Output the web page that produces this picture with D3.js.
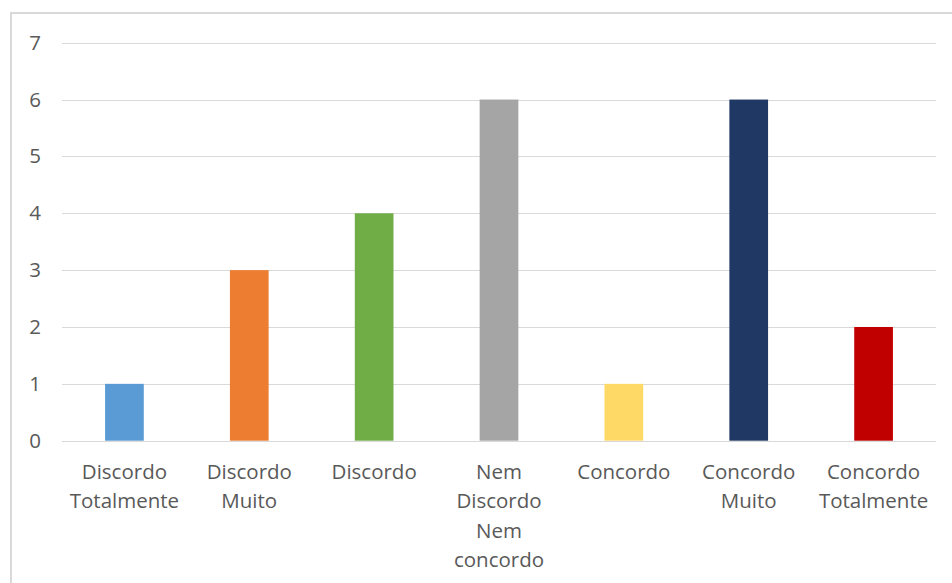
<!DOCTYPE html>
<html>
<head>
<meta charset="utf-8">
<script src="https://cdn.jsdelivr.net/npm/d3@7"></script>
<style>
  html, body { margin: 0; padding: 0; background: #fff; }
  svg { display: block; }
</style>
</head>
<body>
<svg id="chart" width="952" height="583"></svg>
<script>
// Response categories (each may wrap onto several lines)
const categories = [
  ["Discordo", "Totalmente"],
  ["Discordo", "Muito"],
  ["Discordo"],
  ["Nem", "Discordo", "Nem", "concordo"],
  ["Concordo"],
  ["Concordo", "Muito"],
  ["Concordo", "Totalmente"]
];
const values = [1, 3, 4, 6, 1, 6, 2];
const barColors = ["#5B9BD5", "#ED7D31", "#70AD47", "#A5A5A5", "#FFD966", "#203864", "#C00000"];
const yTicks = [0, 1, 2, 3, 4, 5, 6, 7];

const svg = d3.select("#chart");
const font = "'Open Sans', 'Noto Sans', sans-serif";

// Chart frame
svg.append("rect")
  .attr("x", 11).attr("y", 13)
  .attr("width", 960).attr("height", 600)
  .attr("fill", "none")
  .attr("stroke", "#d9d9d9")
  .attr("stroke-width", 2);

const plot = { left: 62, right: 936, top: 42.7, bottom: 440.7 };

const x = d3.scaleBand()
  .domain(d3.range(categories.length))
  .range([plot.left, plot.right])
  .paddingInner(0.69)
  .paddingOuter(0.345);

const y = d3.scaleLinear()
  .domain([0, 7])
  .range([plot.bottom, plot.top]);

// Gridlines
svg.append("g")
  .selectAll("line")
  .data(yTicks)
  .join("line")
  .attr("x1", plot.left).attr("x2", plot.right)
  .attr("y1", d => Math.round(y(d)) + 0.5)
  .attr("y2", d => Math.round(y(d)) + 0.5)
  .attr("stroke", "#d9d9d9")
  .attr("stroke-width", 1);

// Y axis labels
const yAxis = d3.axisLeft(y).tickValues(yTicks).tickSize(0).tickPadding(0).tickFormat(d3.format("d"));
const yg = svg.append("g")
  .attr("transform", `translate(41,0)`)
  .call(yAxis);
yg.select(".domain").remove();
yg.selectAll("text")
  .attr("fill", "#595959")
  .attr("font-family", font)
  .attr("font-size", 20.5);

// Bars
svg.append("g")
  .selectAll("rect")
  .data(values)
  .join("rect")
  .attr("x", (d, i) => x(i))
  .attr("width", x.bandwidth())
  .attr("y", d => y(d))
  .attr("height", d => y(0) - y(d))
  .attr("fill", (d, i) => barColors[i]);

// Category labels
const labels = svg.append("g")
  .selectAll("text")
  .data(categories)
  .join("text")
  .attr("text-anchor", "middle")
  .attr("fill", "#595959")
  .attr("font-family", font)
  .attr("font-size", 20.5)
  .attr("x", (d, i) => x(i) + x.bandwidth() / 2)
  .attr("y", 478.5);

labels.selectAll("tspan")
  .data(d => d)
  .join("tspan")
  .attr("x", function () { return d3.select(this.parentNode).attr("x"); })
  .attr("dy", (d, i) => i === 0 ? 0 : 29.6)
  .text(d => d);
</script>
</body>
</html>
